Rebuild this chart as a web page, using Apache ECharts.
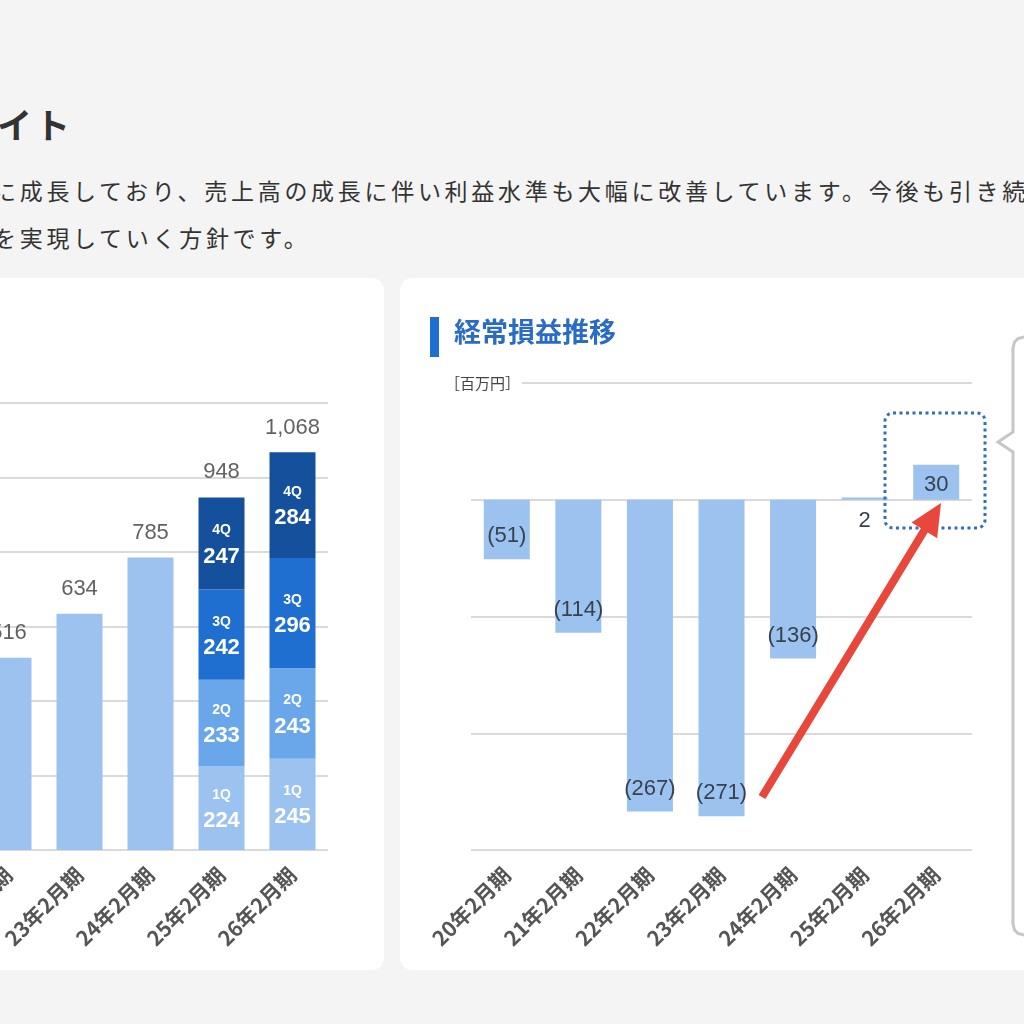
<!DOCTYPE html>
<html><head><meta charset="utf-8">
<script src="https://cdn.jsdelivr.net/npm/echarts@6/dist/echarts.min.js"></script>
<style>
html,body{margin:0;padding:0;width:1024px;height:1024px;overflow:hidden;background:#f4f4f4;font-family:"Noto Sans CJK JP",sans-serif;}
#head{position:absolute;left:-3px;top:99px;font-size:35px;font-weight:bold;color:#333;letter-spacing:3px;line-height:50px;white-space:nowrap;}
.p{position:absolute;left:-7px;font-size:23px;color:#333;letter-spacing:3.7px;white-space:nowrap;line-height:30px;}
.card{position:absolute;background:#fff;border-radius:12px;}
#chart{position:absolute;left:0;top:0;width:1024px;height:1024px;}
</style></head>
<body>
<div id="head">イト</div>
<div class="p" style="top:175px">に成長しており、売上高の成長に伴い利益水準も大幅に改善しています。今後も引き続き</div>
<div class="p" style="top:222px">を実現していく方針です。</div>
<div class="card" style="left:-30px;top:278px;width:414px;height:692px"></div>
<div class="card" style="left:400px;top:278px;width:660px;height:692px"></div>
<div id="chart"></div>
<script>
// ---- left chart: sales (partially visible) ----
const salesCats = ['22年2月期','23年2月期','24年2月期','25年2月期','26年2月期'];
const salesAnnual = [516, 634, 785, null, null];
const salesQ1 = [null, null, null, 224, 245];
const salesQ2 = [null, null, null, 233, 243];
const salesQ3 = [null, null, null, 242, 296];
const salesQ4 = [null, null, null, 247, 284];
const salesTotals = [516, 634, 785, 948, 1068];
const quarterNames = ['1Q','2Q','3Q','4Q'];

// ---- right chart: ordinary profit ----
const profitCats = ['20年2月期','21年2月期','22年2月期','23年2月期','24年2月期','25年2月期','26年2月期'];
const profitValues = [-51, -114, -267, -271, -136, 2, 30];
const profitUnit = '［百万円］';
const profitTitle = '経常損益推移';

const LIGHT = '#9cc2ef';
const qColors = [LIGHT, '#6aa6ea', '#1f6fd1', '#14509c'];
const numFont = '"Liberation Sans", Arial, sans-serif';
const cjkFont = '"Noto Sans CJK JP", sans-serif';

const chart = echarts.init(document.getElementById('chart'), null, {renderer: 'canvas'});

const xLabel = {rotate: 45, interval: 0, margin: 21, fontSize: 21, fontWeight: 'bold', color: '#555', fontFamily: cjkFont};
const split = {show: true, lineStyle: {color: '#dadada', width: 2}};

function quarterSeries(data, idx) {
  return {
    type: 'bar', xAxisIndex: 0, yAxisIndex: 0, stack: 'sales', barWidth: 46,
    data: data, itemStyle: {color: qColors[idx]},
    label: {
      show: true, position: 'inside',
      formatter: p => p.value == null ? '' : '{q|' + quarterNames[idx] + '}\n{v|' + p.value + '}',
      rich: {
        q: {fontSize: 14, fontWeight: 'bold', color: '#fff', fontFamily: numFont, lineHeight: 26},
        v: {fontSize: 22, fontWeight: 'bold', color: '#fff', fontFamily: numFont, lineHeight: 26}
      }
    },
    silent: true
  };
}

const profitData = profitValues.map(v => {
  let pos, dist;
  if (v < 0) { pos = 'insideBottom'; dist = 12; }
  else if (v < 10) { pos = 'bottom'; dist = 10; }
  else { pos = 'insideBottom'; dist = 4; }
  return {value: v, label: {position: pos, distance: dist}};
});

// arrow geometry (annotation)
const tail = [762, 797], tip = [941, 503];
const dx = tip[0] - tail[0], dy = tip[1] - tail[1], L = Math.hypot(dx, dy);
const ux = dx / L, uy = dy / L, px = -uy, py = ux;
const headLen = 32, headHalf = 15;
const base = [tip[0] - ux * headLen, tip[1] - uy * headLen];

const option = {
  animation: false,
  backgroundColor: 'transparent',
  grid: [
    {left: -27, top: 403, width: 355, height: 447, containLabel: false, outerBoundsMode: 'none'},
    {left: 471, top: 383, width: 501, height: 467, containLabel: false, outerBoundsMode: 'none'}
  ],
  xAxis: [
    {type: 'category', gridIndex: 0, data: salesCats, axisTick: {show: false}, axisLine: {show: false}, axisLabel: xLabel},
    {type: 'category', gridIndex: 1, data: profitCats, axisTick: {show: false}, axisLine: {show: false}, axisLabel: xLabel}
  ],
  yAxis: [
    {type: 'value', gridIndex: 0, min: 0, max: 1200, interval: 200, axisLabel: {show: false}, axisLine: {show: false}, axisTick: {show: false}, splitLine: split},
    {type: 'value', gridIndex: 1, min: -300, max: 100, interval: 100, axisLabel: {show: false}, axisLine: {show: false}, axisTick: {show: false}, splitLine: split}
  ],
  series: [
    {type: 'bar', xAxisIndex: 0, yAxisIndex: 0, stack: 'sales', barWidth: 46, data: salesAnnual, itemStyle: {color: LIGHT}, silent: true},
    quarterSeries(salesQ1, 0),
    quarterSeries(salesQ2, 1),
    quarterSeries(salesQ3, 2),
    quarterSeries(salesQ4, 3),
    {type: 'scatter', xAxisIndex: 0, yAxisIndex: 0, data: salesTotals, symbolSize: 1, itemStyle: {color: 'rgba(0,0,0,0)'}, silent: true, z: 5,
      label: {show: true, position: 'top', distance: 13, color: '#3a3a3a', fontSize: 22, fontFamily: numFont,
        formatter: p => p.value.toLocaleString('en-US')}},
    {type: 'bar', xAxisIndex: 1, yAxisIndex: 1, barWidth: 46, data: profitData, itemStyle: {color: LIGHT}, silent: true,
      label: {show: true, color: '#38414f', fontSize: 22, fontFamily: numFont,
        formatter: p => p.value < 0 ? '(' + (-p.value) + ')' : String(p.value)}}
  ],
  graphic: [
    {type: 'rect', shape: {x: 430, y: 317, width: 9, height: 40}, style: {fill: '#1f6fd1'}},
    {type: 'text', x: 454, y: 318, style: {text: profitTitle, fontSize: 27, fontWeight: 'bold', fill: '#2a6cc4', fontFamily: cjkFont}},
    {type: 'text', x: 445, y: 374, z: 10, style: {text: profitUnit, fontSize: 15, fill: '#444', fontFamily: cjkFont, backgroundColor: '#fff', padding: [2, 2, 2, 0]}},
    {type: 'rect', shape: {x: 885, y: 413, width: 100, height: 115, r: 8}, z: 20,
      style: {fill: 'none', stroke: '#2f6fc1', lineWidth: 3, lineDash: [3, 3.5]}},
    {type: 'polyline', z: 20, shape: {points: [[1040,337],[1024,337],[1018,338.5],[1014.5,342],[1013,348],[1013,432],[998,442],[1013,452],[1013,924],[1014.5,930],[1018,933.5],[1024,935],[1040,935]]},
      style: {fill: null, stroke: '#c6c6c6', lineWidth: 3}},
    {type: 'line', z: 30, shape: {x1: tail[0], y1: tail[1], x2: base[0] + ux * 2, y2: base[1] + uy * 2},
      style: {stroke: '#e8473b', lineWidth: 8}},
    {type: 'polygon', z: 30, shape: {points: [tip, [base[0] + px * headHalf, base[1] + py * headHalf], [base[0] - px * headHalf, base[1] - py * headHalf]]},
      style: {fill: '#e8473b'}}
  ]
};
chart.setOption(option);
</script>
</body></html>
